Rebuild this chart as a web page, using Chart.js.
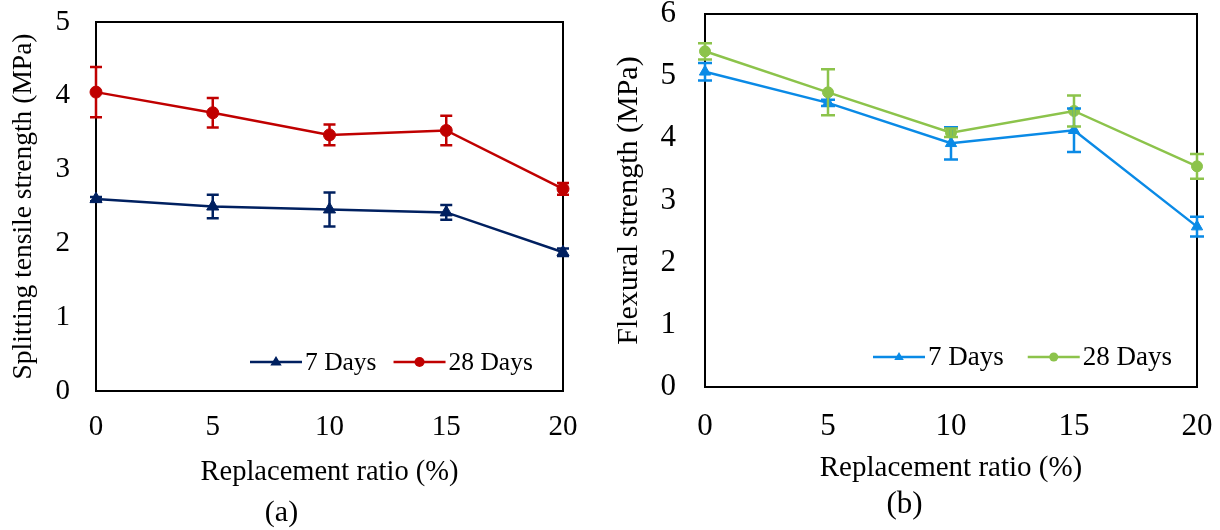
<!DOCTYPE html>
<html>
<head>
<meta charset="utf-8">
<script src="https://cdn.jsdelivr.net/npm/chart.js@4.4.1/dist/chart.umd.min.js"></script>
<style>
  body { margin: 0; background: #fff; }
  #wrap { position: relative; width: 1220px; height: 530px; }
  .box { position: absolute; top: 0; height: 530px; }
  #boxA { left: 0; width: 600px; }
  #boxB { left: 612px; width: 608px; }
</style>
</head>
<body>
<div id="wrap">
  <div class="box" id="boxA"><canvas id="splitting"></canvas></div>
  <div class="box" id="boxB"><canvas id="flexural"></canvas></div>
</div>
<script>
// data
const ratios = [0, 5, 10, 15, 20];
const ageLabels = ['7 Days', '28 Days'];

const splitting7 = [2.6, 2.5, 2.46, 2.42, 1.88];
const splitting7Err = [0.03, 0.16, 0.23, 0.1, 0.05];
const splitting28 = [4.05, 3.77, 3.47, 3.53, 2.74];
const splitting28Err = [0.34, 0.2, 0.14, 0.2, 0.08];

const flexural7 = [5.07, 4.57, 3.92, 4.13, 2.58];
const flexural7Err = [0.14, 0.05, 0.26, 0.35, 0.16];
const flexural28 = [5.4, 4.74, 4.09, 4.44, 3.55];
const flexural28Err = [0.13, 0.37, 0.07, 0.25, 0.2];

Chart.defaults.font.family = "'Liberation Serif', 'Times New Roman', serif";
Chart.defaults.color = '#000';

function points(vals) {
    return ratios.map(function(r, i) { return {x: r, y: vals[i]}; });
}

function lineSet(label, vals, errs, color, style, radius) {
    return {
        label: label,
        data: points(vals),
        errors: errs,
        borderColor: color,
        backgroundColor: color,
        borderWidth: 2.5,
        pointStyle: style,
        pointRadius: radius,
        pointHoverRadius: radius,
        pointBorderWidth: 1,
        tension: 0,
        clip: false
    };
}

function marker(ctx, style, x, y, r) {
    ctx.beginPath();
    if (style === 'triangle') {
        ctx.moveTo(x, y - r);
        ctx.lineTo(x + r * 0.95, y + r * 0.6);
        ctx.lineTo(x - r * 0.95, y + r * 0.6);
        ctx.closePath();
    } else {
        ctx.arc(x, y, r, 0, Math.PI * 2);
    }
    ctx.fill();
}

// box round the plot area
const frameBox = {
    id: 'frameBox',
    beforeDatasetsDraw(chart) {
        const a = chart.chartArea;
        const ctx = chart.ctx;
        ctx.save();
        ctx.strokeStyle = '#000';
        ctx.lineWidth = 2;
        ctx.strokeRect(a.left, a.top, a.right - a.left, a.bottom - a.top);
        ctx.restore();
    }
};

const errorBars = {
    id: 'errorBars',
    afterDatasetsDraw(chart, args, opts) {
        const ctx = chart.ctx;
        const xs = chart.scales.x;
        const ys = chart.scales.y;
        const cap = opts.cap || 6;
        chart.data.datasets.forEach(function(ds) {
            if (!ds.errors) return;
            ctx.save();
            ctx.strokeStyle = ds.borderColor;
            ctx.lineWidth = 2.5;
            ds.data.forEach(function(p, j) {
                const e = ds.errors[j];
                const x = xs.getPixelForValue(p.x);
                const top = ys.getPixelForValue(p.y + e);
                const bot = ys.getPixelForValue(p.y - e);
                ctx.beginPath();
                ctx.moveTo(x, top);
                ctx.lineTo(x, bot);
                ctx.moveTo(x - cap, top);
                ctx.lineTo(x + cap, top);
                ctx.moveTo(x - cap, bot);
                ctx.lineTo(x + cap, bot);
                ctx.stroke();
            });
            ctx.restore();
        });
    }
};

// legend sits inside the plot, bottom right
const insideLegend = {
    id: 'insideLegend',
    afterDraw(chart, args, opts) {
        const ctx = chart.ctx;
        const a = chart.chartArea;
        let x = a.left + opts.x;
        const y = a.bottom - opts.y;
        ctx.save();
        ctx.font = opts.fontSize + "px 'Liberation Serif', 'Times New Roman', serif";
        ctx.textBaseline = 'middle';
        chart.data.datasets.forEach(function(ds, i) {
            ctx.strokeStyle = ds.borderColor;
            ctx.fillStyle = ds.borderColor;
            ctx.lineWidth = 2.5;
            ctx.beginPath();
            ctx.moveTo(x, y);
            ctx.lineTo(x + 52, y);
            ctx.stroke();
            marker(ctx, ds.pointStyle, x + 26, y, opts.marks[i]);
            ctx.fillStyle = '#000';
            ctx.fillText(ds.label, x + 55, y + 1);
            x += 55 + ctx.measureText(ds.label).width + opts.gap;
        });
        ctx.restore();
    }
};

function makeChart(id, sets, o) {
    return new Chart(id, {
        type: 'line',
        data: {datasets: sets},
        options: {
            responsive: true,
            maintainAspectRatio: false,
            animation: false,
            layout: {padding: {top: o.padTop, right: o.padRight, left: 0, bottom: 0}},
            plugins: {
                legend: {display: false},
                tooltip: {enabled: false},
                title: {
                    display: true,
                    text: o.caption,
                    position: 'bottom',
                    color: '#000',
                    font: {size: o.capFont, weight: 'normal', lineHeight: 1.1},
                    padding: {top: 0, bottom: o.capPad}
                },
                errorBars: {cap: o.cap},
                insideLegend: {x: o.legX, y: o.legY, gap: o.legGap, fontSize: o.legFont, marks: o.legMarks}
            },
            scales: {
                x: {
                    type: 'linear',
                    min: 0,
                    max: 20,
                    // grid is hidden, the tick length only spaces the labels
                    grid: {display: false, drawTicks: true, tickLength: o.xTickLen},
                    border: {display: false},
                    ticks: {stepSize: 5, font: {size: o.tickFont, lineHeight: 1}, padding: 0},
                    title: {
                        display: true,
                        text: 'Replacement ratio (%)',
                        font: {size: o.xTitleFont, lineHeight: 1.2},
                        padding: {top: 0, bottom: o.xTitlePad}
                    },
                    afterFit: function(s) { s.height = o.xHeight; }
                },
                y: {
                    min: 0,
                    max: o.yMax,
                    grid: {display: false, drawTicks: true, tickLength: o.yTickLen},
                    border: {display: false},
                    ticks: {stepSize: 1, font: {size: o.tickFont, lineHeight: 0.9}, padding: 0},
                    title: {
                        display: true,
                        text: o.yTitle,
                        font: {size: o.yTitleFont, lineHeight: 1.1},
                        padding: {top: o.yTitlePad, bottom: 0}
                    },
                    afterFit: function(s) { s.width = o.yWidth; }
                }
            }
        },
        plugins: [frameBox, errorBars, insideLegend]
    });
}

makeChart('splitting', [
    lineSet(ageLabels[0], splitting7, splitting7Err, '#002060', 'triangle', 7),
    lineSet(ageLabels[1], splitting28, splitting28Err, '#C00000', 'circle', 6)
], {
    caption: '(a)', yTitle: 'Splitting tensile strength (MPa)', yMax: 5,
    padTop: 22, padRight: 37, capFont: 30, capPad: 0.5,
    tickFont: 29, xHeight: 105.5, xTickLen: 21.5,
    xTitleFont: 28.5, xTitlePad: 6.4,
    yWidth: 96, yTickLen: 26, yTitleFont: 27.5, yTitlePad: 8.9,
    cap: 6, legX: 154, legY: 29, legGap: 17, legFont: 25.5, legMarks: [6, 5]
});

makeChart('flexural', [
    lineSet(ageLabels[0], flexural7, flexural7Err, '#0A8AE6', 'triangle', 6.5),
    lineSet(ageLabels[1], flexural28, flexural28Err, '#8CC34B', 'circle', 5.5)
], {
    caption: '(b)', yTitle: 'Flexural strength (MPa)', yMax: 6,
    padTop: 14, padRight: 23, capFont: 31, capPad: 7.95,
    tickFont: 31, xHeight: 100.95, xTickLen: 24,
    xTitleFont: 29, xTitlePad: 2.55,
    yWidth: 93, yTickLen: 29, yTitleFont: 30, yTitlePad: 0.5,
    cap: 7, legX: 168, legY: 30, legGap: 24, legFont: 27, legMarks: [5, 4.5]
});
</script>
</body>
</html>
